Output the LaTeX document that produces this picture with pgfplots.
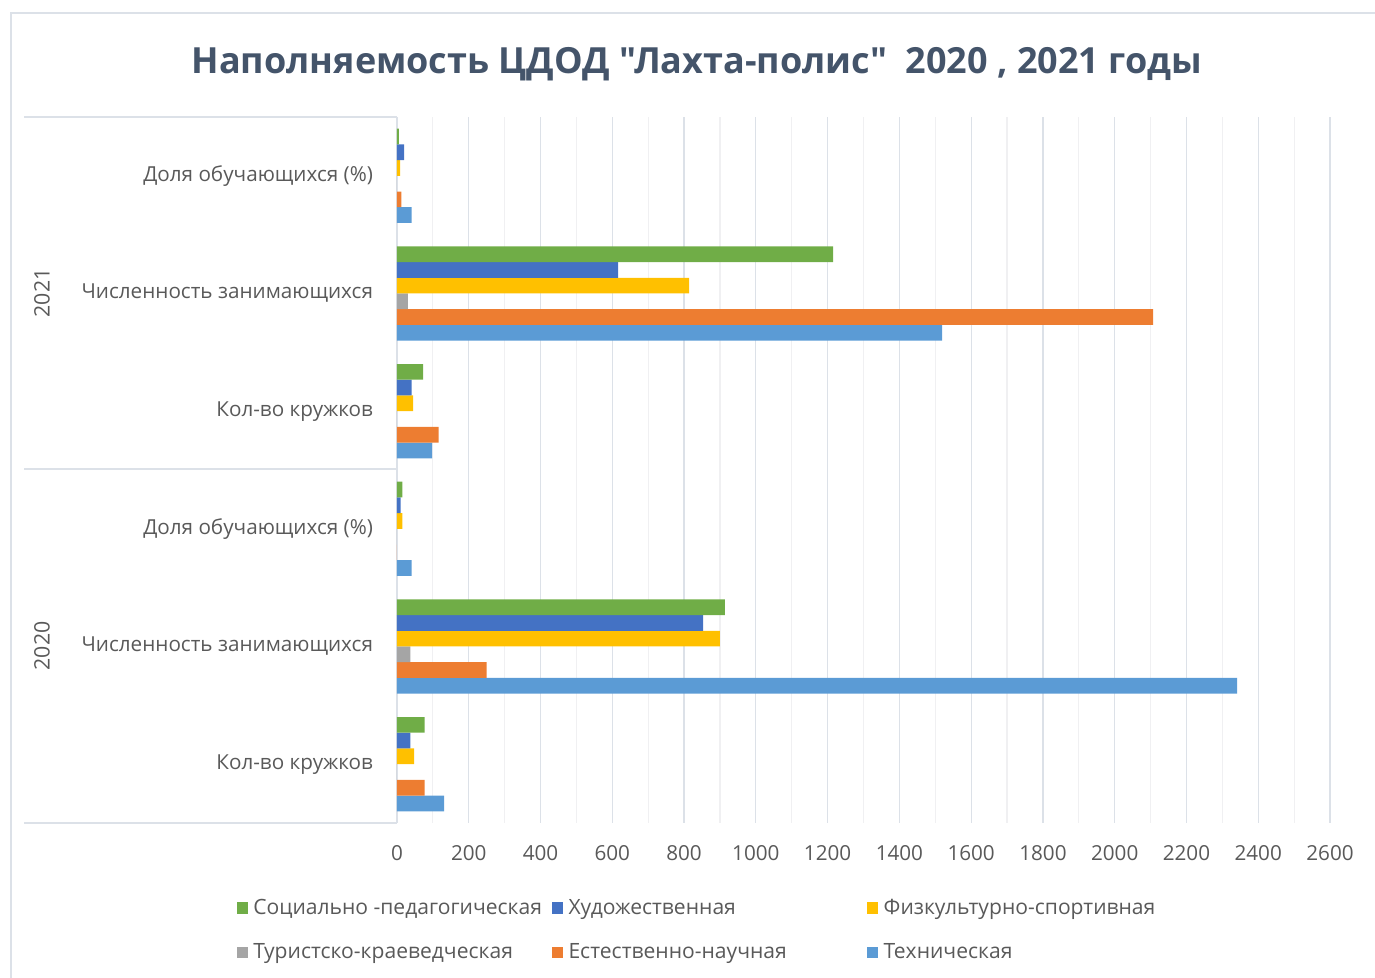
\documentclass[border=0pt]{standalone}
\usepackage{pgfplots}
\pgfplotsset{compat=1.18}
\usepackage{fontspec}
\setmainfont{Open Sans}[Ligatures=TeXOff]
\definecolor{cgreen}{HTML}{70AD47}
\definecolor{cblue}{HTML}{4472C4}
\definecolor{cyellow}{HTML}{FFC000}
\definecolor{cgray}{HTML}{A5A5A5}
\definecolor{corange}{HTML}{ED7D31}
\definecolor{clblue}{HTML}{5B9BD5}
\definecolor{gridmaj}{HTML}{DCE1E8}
\definecolor{gridmin}{HTML}{F0F0F2}
\definecolor{txt}{HTML}{595959}
\definecolor{ttl}{HTML}{44546A}
\newcommand{\lf}{\fontsize{15.5}{18}\selectfont}
\newcommand{\legent}[1]{\makebox[224pt][l]{\hspace{2pt}#1}}
\begin{document}
\begin{tikzpicture}
\path[use as bounding box] (0,0) rectangle (1031.25pt,733.5pt);
\begin{axis}[
  at={(297.75pt,116.25pt)}, anchor=south west,
  scale only axis, width=699.75pt, height=529.5pt,
  xbar=0pt, bar width=0.1335,
  xmin=0, xmax=2600, ymin=-0.5, ymax=5.5,
  xtick={0,200,...,2600}, minor x tick num=1,
  xmajorgrids, xminorgrids,
  major grid style={draw=gridmaj, line width=0.9pt},
  minor grid style={draw=gridmin, line width=0.9pt},
  axis lines*=left,
  x axis line style={draw=none},
  y axis line style={draw=gridmaj, line width=0.9pt},
  tick style={draw=none}, major tick length=0pt, minor tick length=0pt,
  ytick={0,1,2,3,4,5},
  yticklabels={Кол-во кружков, Численность занимающихся, Доля обучающихся (\%), Кол-во кружков, Численность занимающихся, Доля обучающихся (\%)},
  yticklabel style={font=\lf, color=txt, xshift=-14.5pt},
  xticklabel style={font=\lf, color=txt, yshift=-13pt, /pgf/number format/assume math mode=true, /pgf/number format/1000 sep={}},
  legend columns=3, reverse legend,
  legend style={draw=none, fill=none, inner sep=0pt, at={(-0.172,-0.104)}, anchor=north west,
    font=\fontsize{15.8}{18}\selectfont, text=txt, row sep=16.5pt, column sep=0pt},
  legend image code/.code={\fill[#1] (0pt,-4.2pt) rectangle (8.4pt,4.2pt);},
  clip=false,
]
\addplot[fill=clblue, draw=none] coordinates {(131,0) (2341,1) (41,2) (98,3) (1519,4) (41,5)};
\addlegendentry{\legent{Техническая}}
\addplot[fill=corange, draw=none] coordinates {(77,0) (250,1) (0,2) (116,3) (2107,4) (12,5)};
\addlegendentry{\legent{Естественно-научная}}
\addplot[fill=cgray, draw=none] coordinates {(0,0) (37,1) (0,2) (0,3) (30,4) (0,5)};
\addlegendentry{\legent{Туристско-краеведческая}}
\addplot[fill=cyellow, draw=none] coordinates {(48,0) (900,1) (15,2) (45,3) (814,4) (9,5)};
\addlegendentry{\legent{Физкультурно-спортивная}}
\addplot[fill=cblue, draw=none] coordinates {(37,0) (853,1) (10,2) (41,3) (616,4) (20,5)};
\addlegendentry{\legent{Художественная}}
\addplot[fill=cgreen, draw=none] coordinates {(77,0) (914,1) (15,2) (73,3) (1215,4) (5,5)};
\addlegendentry{\legent{Социально -педагогическая}}
\end{axis}
\begin{scope}[x=0.75pt, y=-0.75pt, yshift=733.5pt]
  \draw[gridmaj, line width=1.2pt] (11,1000) -- (11,13) -- (1380,13);
  \draw[gridmaj, line width=0.9pt] (24,117) -- (397,117);
  \draw[gridmaj, line width=0.9pt] (24,469) -- (397,469);
  \draw[gridmaj, line width=0.9pt] (24,823) -- (397,823);
  \node[rotate=90, text=txt, font=\fontsize{16}{18}\selectfont] at (42,293) {2021};
  \node[rotate=90, text=txt, font=\fontsize{16}{18}\selectfont] at (42,646) {2020};
  \node[text=ttl, font=\fontsize{27}{31}\selectfont\bfseries] at (697,64) {Наполняемость ЦДОД "Лахта-полис"\ \ 2020 , 2021 годы};
\end{scope}
\end{tikzpicture}
\end{document}
